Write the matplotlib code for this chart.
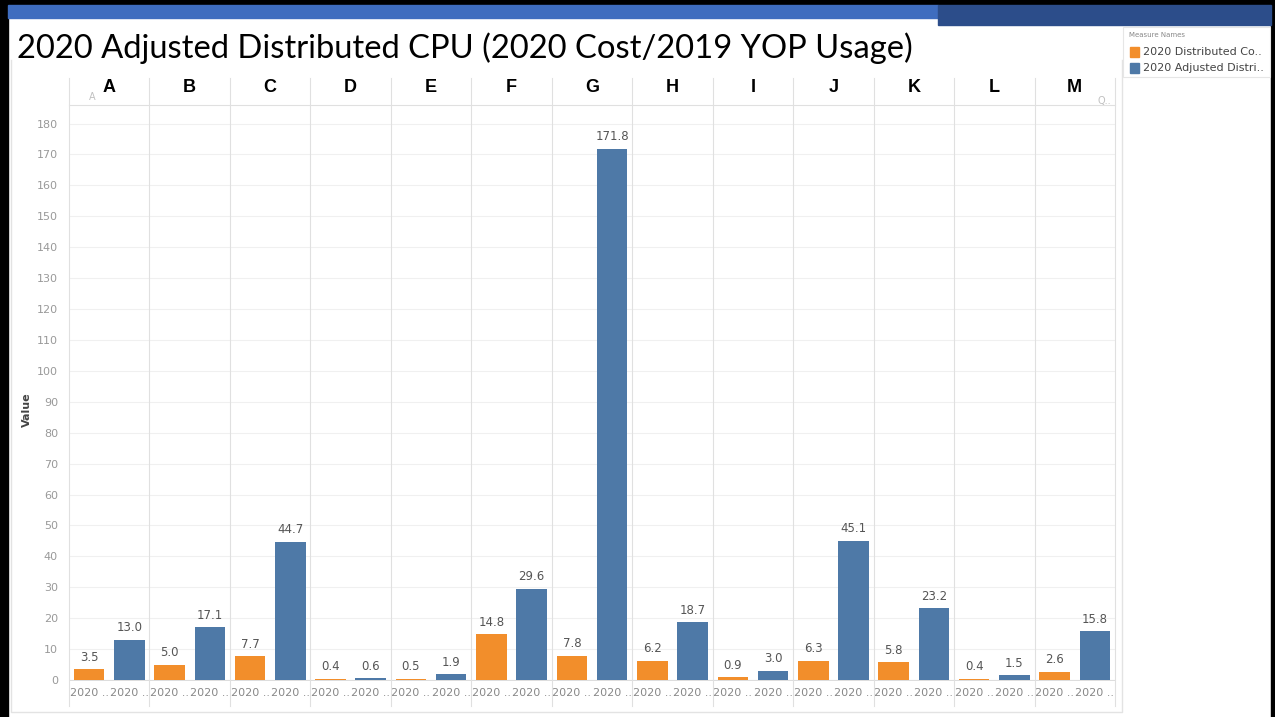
import matplotlib
matplotlib.use("Agg")
import matplotlib.pyplot as plt
from matplotlib.transforms import Affine2D, blended_transform_factory
from matplotlib.patches import Rectangle
from matplotlib.lines import Line2D
import numpy as np

# ---- data ----
groups = ["A", "B", "C", "D", "E", "F", "G", "H", "I", "J", "K", "L", "M"]
series_names = ["2020 Distributed Co..", "2020 Adjusted Distri.."]
distributed = [3.5, 5.0, 7.7, 0.4, 0.5, 14.8, 7.8, 6.2, 0.9, 6.3, 5.8, 0.4, 2.6]
adjusted = [13.0, 17.1, 44.7, 0.6, 1.9, 29.6, 171.8, 18.7, 3.0, 45.1, 23.2, 1.5, 15.8]
x_label_text = "2020 .."
title = "2020 Adjusted Distributed CPU (2020 Cost/2019 YOP Usage)"
yticks = list(range(0, 181, 10))

ORANGE = "#F28E2B"
BLUE = "#4E79A7"

W, H = 1275, 717
fig = plt.figure(figsize=(W / 100, H / 100), dpi=100)
fig.patch.set_facecolor("white")

# pixel transform (x from left, y from top)
px = Affine2D().scale(1 / W, -1 / H).translate(0, 1) + fig.transFigure


def rect(x0, y0, x1, y1):
    return [x0 / W, 1 - y1 / H, (x1 - x0) / W, (y1 - y0) / H]


# ---- slide decorations ----
fig.patches.append(Rectangle((0, 0), 8, H, transform=px, color="black", zorder=0))
fig.patches.append(Rectangle((1271, 0), 4, H, transform=px, color="black", zorder=0))
fig.patches.append(Rectangle((0, 0), W, 5, transform=px, color="black", zorder=0))
fig.patches.append(Rectangle((8, 5), 930, 13, transform=px, color="#3F6DBF", zorder=0))
fig.patches.append(Rectangle((938, 5), 333, 20, transform=px, color="#2C4D8A", zorder=0))
# dashboard light border
fig.lines.append(Line2D([11, 11, 1122, 1122], [60, 712, 712, 60], transform=px,
                        color="#E3E3E3", lw=1, zorder=0))

fig.text(17, 48, title, transform=px, fontsize=23.6, family="Lato",
         va="center", ha="left", color="black")

# ---- main axes ----
ax = fig.add_axes(rect(69, 105, 1115, 681))
n = len(groups)
xo = np.arange(n) * 2
xb = xo + 1
bw = 0.76
ax.bar(xo, distributed, width=bw, color=ORANGE, zorder=3)
ax.bar(xb, adjusted, width=bw, color=BLUE, zorder=3)
for xs, vals in ((xo, distributed), (xb, adjusted)):
    for x, v in zip(xs, vals):
        ax.annotate(f"{v:.1f}", (x, v), xytext=(0, 4), textcoords="offset points",
                    ha="center", va="bottom", fontsize=8.5, color="#555555")

ax.set_xlim(-0.5, 2 * n - 0.5)
ax.set_ylim(-0.3, 186)
ax.set_yticks(yticks)
ax.set_yticklabels([str(t) for t in yticks], color="#999999", fontsize=8)
ax.set_xticks(list(np.ravel(np.column_stack([xo, xb]))))
ax.set_xticklabels([x_label_text] * (2 * n), color="#888888", fontsize=8)
ax.tick_params(axis="both", length=0)
ax.tick_params(axis="x", pad=5)
ax.tick_params(axis="y", pad=8)
ax.grid(axis="y", color="#F0F0F0", lw=0.8, zorder=0)
for s in ax.spines.values():
    s.set_visible(False)
ax.axhline(0, color="#DDDDDD", lw=0.8, zorder=2)
ax.set_ylabel("Value", fontsize=8, fontweight="bold", color="#444444")
ax.yaxis.set_label_coords(32, 410, transform=px)

# panel dividers and header row
bt = blended_transform_factory(ax.transData, px)
for b in np.arange(n + 1) * 2 - 0.5:
    fig.lines.append(Line2D([b, b], [78, 706], transform=bt, color="#E0E0E0", lw=0.8))
fig.lines.append(Line2D([69, 1115], [105, 105], transform=px, color="#E0E0E0", lw=0.8))
for g, c in zip(groups, xo + 0.5):
    fig.text(c, 87, g, transform=bt, ha="center", va="center", fontsize=13,
             fontweight="bold", family="Liberation Sans", color="black")
fig.text(92, 97, "A", transform=px, ha="center", va="center", fontsize=7, color="#C0C0C0")
fig.text(1104, 101, "Q..", transform=px, ha="center", va="center", fontsize=7, color="#C0C0C0")

# ---- legend ----
fig.patches.append(Rectangle((1123, 27), 147, 50, transform=px, facecolor="white",
                             edgecolor="#E6E6E6", lw=0.8))
fig.text(1129, 35, "Measure Names", transform=px, fontsize=5, color="#888888", va="center")
for i, (nm, col) in enumerate(zip(series_names, [ORANGE, BLUE])):
    y = 52 + i * 16
    fig.patches.append(Rectangle((1130, y - 5), 9, 10, transform=px, color=col))
    fig.text(1143, y, nm, transform=px, fontsize=8, color="#444444", va="center")

fig.savefig("out.png", dpi=100)
